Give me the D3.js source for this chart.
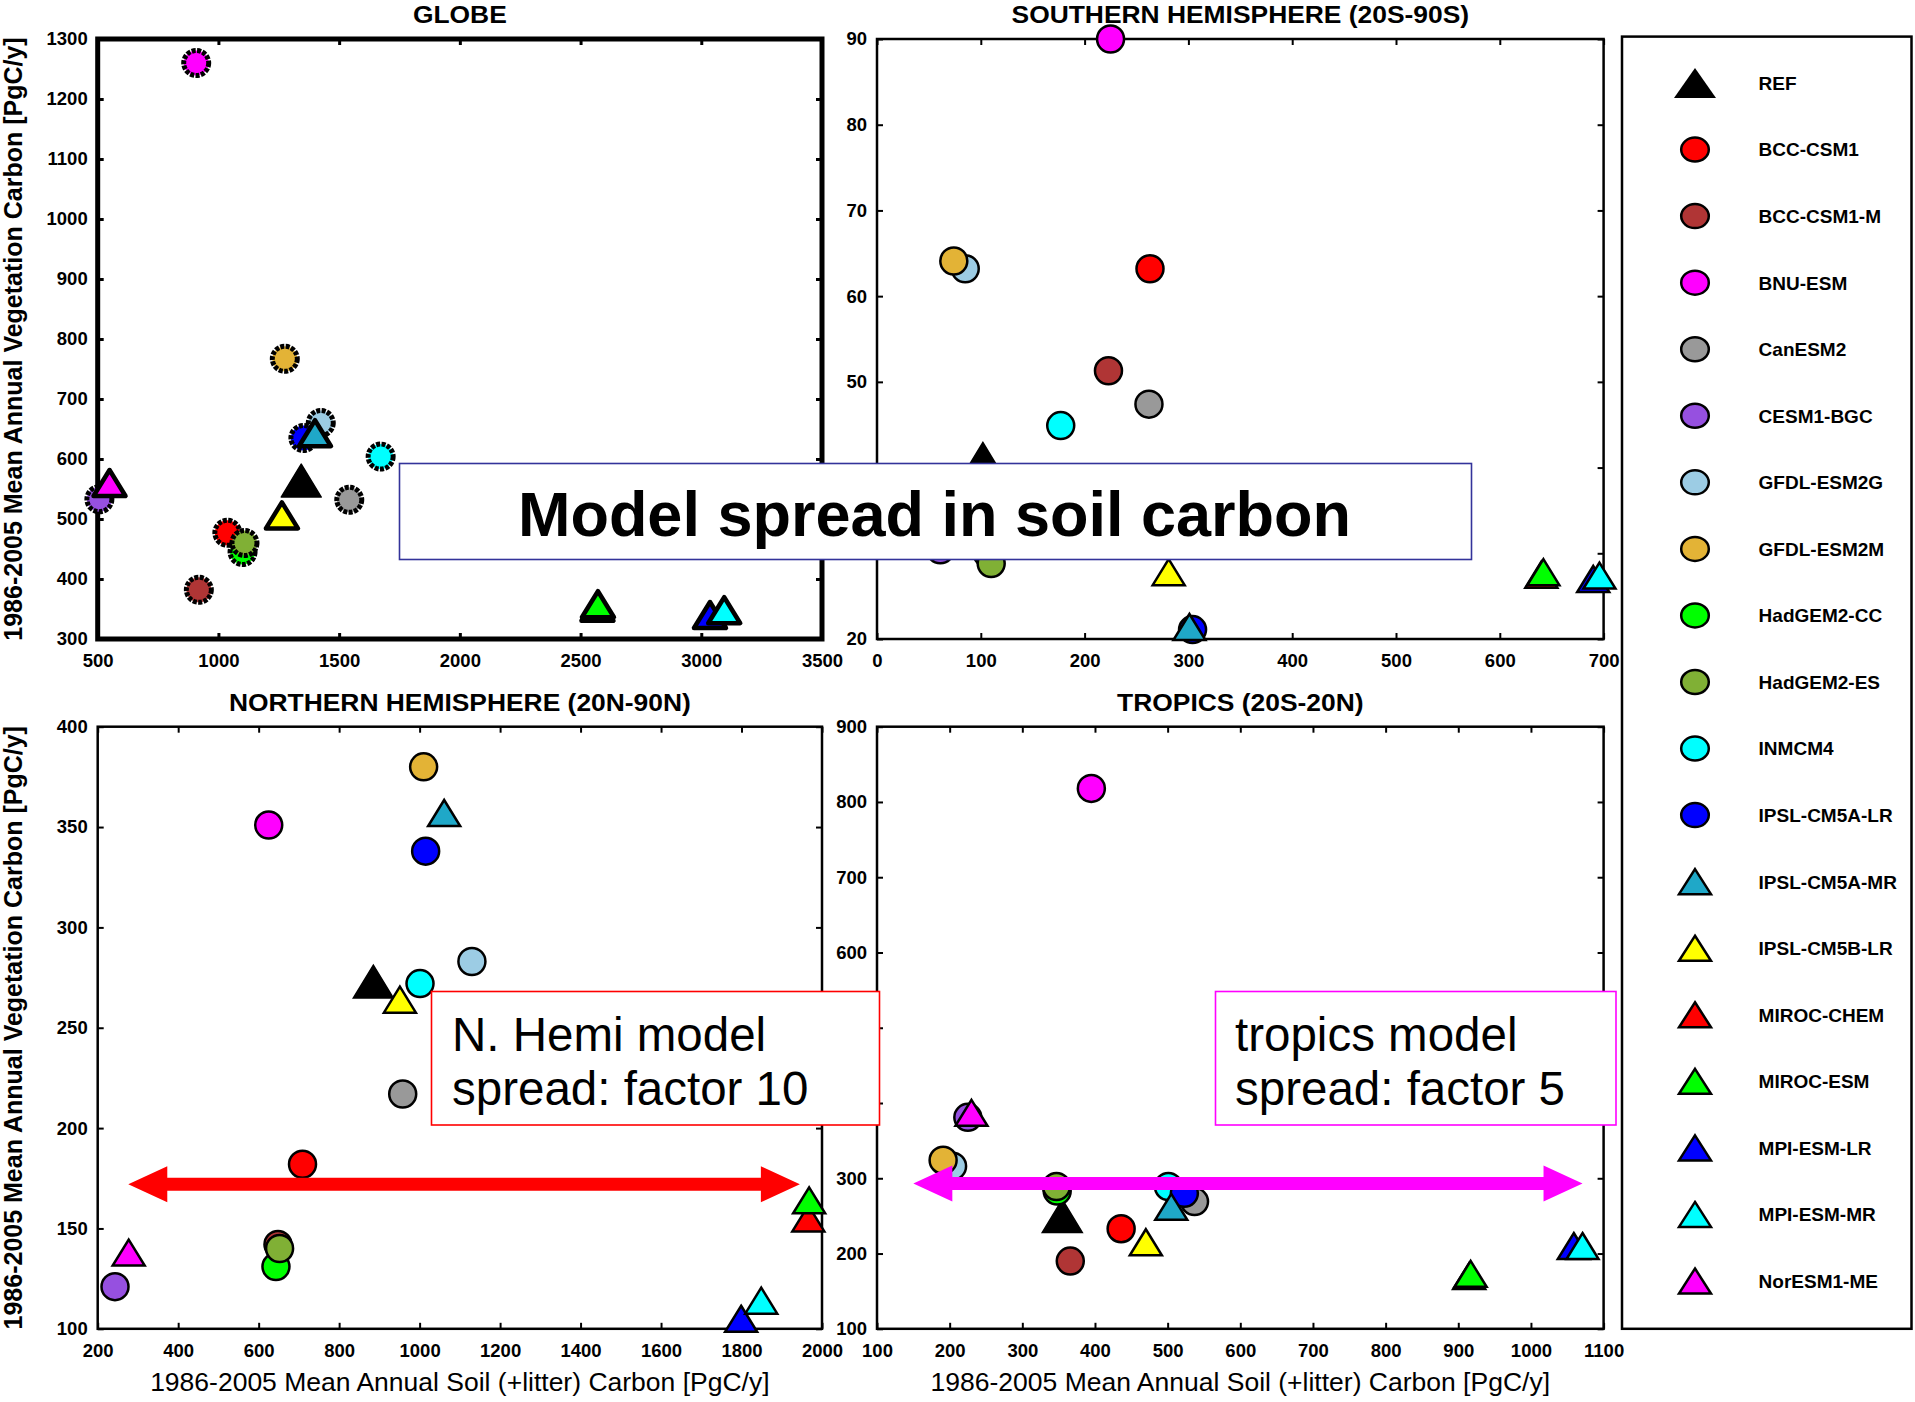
<!DOCTYPE html>
<html><head><meta charset="utf-8">
<script src="https://cdn.jsdelivr.net/npm/d3@7"></script>
<style>
body{margin:0;background:#fff}
svg{display:block}
text{font-family:"Liberation Sans",Arial,Helvetica,sans-serif}
</style>
</head><body>
<svg id="c" width="1915" height="1402"></svg>
<script>
// ---------------- DATA ----------------
const models = ["REF","BCC-CSM1","BCC-CSM1-M","BNU-ESM","CanESM2","CESM1-BGC","GFDL-ESM2G","GFDL-ESM2M",
  "HadGEM2-CC","HadGEM2-ES","INMCM4","IPSL-CM5A-LR","IPSL-CM5A-MR","IPSL-CM5B-LR","MIROC-CHEM","MIROC-ESM",
  "MPI-ESM-LR","MPI-ESM-MR","NorESM1-ME"];
const colors = ["#000000","#ff0000","#b03535","#ff00ff","#999999","#9650e0","#9ccce4","#e3b336",
  "#00ff00","#80b035","#00ffff","#0000ff","#1fa8c8","#ffff00","#ff0000","#00ff00",
  "#0000ff","#00ffff","#ff00ff"];
const shapes = ["ref","circle","circle","circle","circle","circle","circle","circle",
  "circle","circle","circle","circle","triangle","triangle","triangle","triangle",
  "triangle","triangle","triangle"];

// Soil (+litter) carbon [PgC] (x) and vegetation carbon [PgC] (y), same order as models
const globeSoil = [1343,1037,919,908,1542,507,1424,1275,1100,1108,1672,1352,1400,1263,2570,2572,3036,3095,549];
const globeVeg  = [564,477,382,1260,532,533,660,767,445,460,604,635,643,506,352,358,340,348,560];

const shSoil = [102,263,223,225,262,61,85,74,106,110,177,304,301,281,640,642,690,696,65];
const shVeg  = [41,63.2,51.3,90,47.4,30.4,63.2,64.1,30,28.8,44.9,21.1,21.4,27.8,27.5,27.8,27.0,27.4,31];

const nhSoil = [885,709,648,625,958,243,1130,1010,643,652,1001,1015,1061,951,1966,1968,1799,1849,277];
const nhVeg  = [273,182,142,351,217,121,283,380,131,140,272,338,357,264,155,164,105,114,138];

const trSoil = [355,436,366,395,537,225,204,191,348,347,501,523,505,470,915,917,1059,1071,230];
const trVeg  = [250,233,190,818,269,381,316,324,283,289,289,280,262,215,170,173,210,210,387];

// tick values
const globeXTicks = [500,1000,1500,2000,2500,3000,3500];
const globeYTicks = [300,400,500,600,700,800,900,1000,1100,1200,1300];
const shXTicks = [0,100,200,300,400,500,600,700];
const shYTicks = [20,30,40,50,60,70,80,90];
const shYHiddenLabels = [30,40];   // covered by the annotation box in the original
const nhXTicks = [200,400,600,800,1000,1200,1400,1600,1800,2000];
const nhYTicks = [100,150,200,250,300,350,400];
const trXTicks = [100,200,300,400,500,600,700,800,900,1000,1100];
const trYTicks = [100,200,300,400,500,600,700,800,900];

// spread arrows: [soil start, soil end, veg level]
const nhArrow = [276,1945,172];
const trArrow = [150,1071,293];

const titles = ["GLOBE","SOUTHERN HEMISPHERE (20S-90S)","NORTHERN HEMISPHERE (20N-90N)","TROPICS (20S-20N)"];
const xLabel = "1986-2005 Mean Annual Soil (+litter) Carbon [PgC/y]";
const yLabel = "1986-2005 Mean Annual Vegetation Carbon [PgC/y]";

// ---------------- DRAW ----------------
const svg = d3.select("#c");
svg.append("rect").attr("width",1915).attr("height",1402).attr("fill","#fff");

const L1=97.7, R1=822, L2=877, R2=1603.6, T1=39, B1=639, T2=726.7, B2=1328.8;
const panels = [
  {title:titles[0], soil:globeSoil, veg:globeVeg, xd:[500,3500], yd:[300,1300], xt:globeXTicks, yt:globeYTicks, hide:[], l:L1,r:R1,t:T1,b:B1, fw:5, tw:3, globe:true},
  {title:titles[1], soil:shSoil, veg:shVeg, xd:[0,700], yd:[20,90], xt:shXTicks, yt:shYTicks, hide:shYHiddenLabels, l:L2,r:R2,t:T1,b:B1, fw:2.5, tw:2},
  {title:titles[2], soil:nhSoil, veg:nhVeg, xd:[200,2000], yd:[100,400], xt:nhXTicks, yt:nhYTicks, hide:[], l:L1,r:R1,t:T2,b:B2, fw:2.5, tw:2, arrow:nhArrow, arrowColor:"#ff0000", xlab:true},
  {title:titles[3], soil:trSoil, veg:trVeg, xd:[100,1100], yd:[100,900], xt:trXTicks, yt:trYTicks, hide:[], l:L2,r:R2,t:T2,b:B2, fw:2.5, tw:2, arrow:trArrow, arrowColor:"#ff00ff", xlab:true}
];

function triPath(w,h){ return `M0,${-h/2}L${w/2},${h/2}L${-w/2},${h/2}Z`; }

function styleAxis(ax, tw){
  ax.select(".domain").remove();
  ax.selectAll("line").attr("stroke","#000").attr("stroke-width",tw);
  ax.selectAll("text").attr("font-size",18.5).attr("font-weight","bold")
    .attr("font-family",'"Liberation Sans",Arial,sans-serif').attr("fill","#000");
}

const arrowLayer = [];
panels.forEach(p=>{
  const g = svg.append("g");
  const x = d3.scaleLinear().domain(p.xd).range([p.l,p.r]);
  const y = d3.scaleLinear().domain(p.yd).range([p.b,p.t]);

  g.append("rect").attr("x",p.l).attr("y",p.t).attr("width",p.r-p.l).attr("height",p.b-p.t)
    .attr("fill","none").attr("stroke","#000").attr("stroke-width",p.fw);

  styleAxis(g.append("g").attr("transform",`translate(0,${p.b})`)
    .call(d3.axisBottom(x).tickValues(p.xt).tickSize(-6).tickPadding(15).tickFormat(d3.format("d"))), p.tw);
  styleAxis(g.append("g").attr("transform",`translate(0,${p.t})`)
    .call(d3.axisTop(x).tickValues(p.xt).tickSize(-6).tickFormat("")), p.tw);
  styleAxis(g.append("g").attr("transform",`translate(${p.l},0)`)
    .call(d3.axisLeft(y).tickValues(p.yt).tickSize(-6).tickPadding(10)
      .tickFormat(d => p.hide.includes(d) ? "" : d3.format("d")(d))), p.tw);
  styleAxis(g.append("g").attr("transform",`translate(${p.r},0)`)
    .call(d3.axisRight(y).tickValues(p.yt).tickSize(-6).tickFormat("")), p.tw);

  // title
  g.append("text").attr("transform",`translate(${(p.l+p.r)/2},${p.t-16}) scale(1.1,1)`).attr("text-anchor","middle")
    .attr("font-size",24).attr("font-weight","bold").text(p.title);

  // markers
  models.forEach((m,i)=>{
    const cx = x(p.soil[i]), cy = y(p.veg[i]);
    const sw = p.globe ? 5 : 2.5;
    if(shapes[i]==="circle"){
      const c = g.append("circle").attr("cx",cx).attr("cy",cy).attr("r",p.globe?12.5:13.5)
        .attr("fill",colors[i]).attr("stroke","#000").attr("stroke-width",sw);
      if(p.globe) c.attr("stroke-dasharray","4 1.4");
    } else {
      const big = shapes[i]==="ref";
      g.append("path").attr("d", big ? triPath(40,33) : triPath(32,26))
        .attr("transform",`translate(${cx},${cy})`)
        .attr("fill",colors[i]).attr("stroke","#000").attr("stroke-width", big ? 1.5 : (p.globe?4.5:2.5))
        .attr("stroke-linejoin", p.globe ? "round" : "miter");
    }
  });

  if(p.arrow) arrowLayer.push({x, y, a:p.arrow, color:p.arrowColor});

  if(p.xlab){
    g.append("text").attr("x",(p.l+p.r)/2).attr("y",1391).attr("text-anchor","middle")
      .attr("font-size",26.5).text(xLabel);
  }
  if(p.l===L1){
    g.append("text").attr("transform",`translate(22,${(p.t+p.b)/2}) rotate(-90)`).attr("text-anchor","middle")
      .attr("font-size",25).attr("font-weight","bold").text(yLabel);
  }
});

// spread arrows
arrowLayer.forEach(A=>{
  const x1=A.x(A.a[0]), x2=A.x(A.a[1]), yy=A.y(A.a[2]);
  const st=6.5, hh=18, hl=39;
  const pts=[[x1,yy],[x1+hl,yy-hh],[x1+hl,yy-st],[x2-hl,yy-st],[x2-hl,yy-hh],[x2,yy],
             [x2-hl,yy+hh],[x2-hl,yy+st],[x1+hl,yy+st],[x1+hl,yy+hh]];
  svg.append("polygon").attr("points",pts.map(p=>p.join(",")).join(" ")).attr("fill",A.color);
});

// annotation boxes
const ann = svg.append("g");
ann.append("rect").attr("x",399.5).attr("y",463.5).attr("width",1072).attr("height",96)
  .attr("fill","#fff").attr("stroke","#33339a").attr("stroke-width",1.6);
ann.append("text").attr("x",934.5).attr("y",536).attr("text-anchor","middle")
  .attr("font-size",63).attr("font-weight","bold").text("Model spread in soil carbon");

ann.append("rect").attr("x",431.5).attr("y",991.5).attr("width",448).attr("height",133.5)
  .attr("fill","#fff").attr("stroke","#ff0000").attr("stroke-width",1.6);
ann.append("text").attr("x",452).attr("y",1051).attr("font-size",47.5).text("N. Hemi model");
ann.append("text").attr("x",452).attr("y",1105).attr("font-size",47.5).text("spread: factor 10");

ann.append("rect").attr("x",1215.5).attr("y",991.5).attr("width",400.5).attr("height",133.5)
  .attr("fill","#fff").attr("stroke","#ff00ff").attr("stroke-width",1.6);
ann.append("text").attr("x",1235).attr("y",1051).attr("font-size",47.5).text("tropics model");
ann.append("text").attr("x",1235).attr("y",1105).attr("font-size",47.5).text("spread: factor 5");

// legend
const leg = svg.append("g");
leg.append("rect").attr("x",1622).attr("y",36.6).attr("width",289.5).attr("height",1292.2)
  .attr("fill","#fff").attr("stroke","#000").attr("stroke-width",2.5);
const ly = d3.scalePoint().domain(models).range([83,1281]);
models.forEach((m,i)=>{
  const yy = ly(m), xx = 1695;
  if(shapes[i]==="circle"){
    leg.append("ellipse").attr("cx",xx).attr("cy",yy).attr("rx",13.8).attr("ry",12)
      .attr("fill",colors[i]).attr("stroke","#000").attr("stroke-width",2.5);
  } else if(shapes[i]==="ref"){
    leg.append("path").attr("d",triPath(42,30)).attr("transform",`translate(${xx},${yy})`).attr("fill","#000");
  } else {
    leg.append("path").attr("d",triPath(32,25)).attr("transform",`translate(${xx},${yy})`)
      .attr("fill",colors[i]).attr("stroke","#000").attr("stroke-width",2.5);
  }
  leg.append("text").attr("x",1758.6).attr("y",yy).attr("dy","0.36em")
    .attr("font-size",19).attr("font-weight","bold").text(m);
});
</script>
</body></html>
